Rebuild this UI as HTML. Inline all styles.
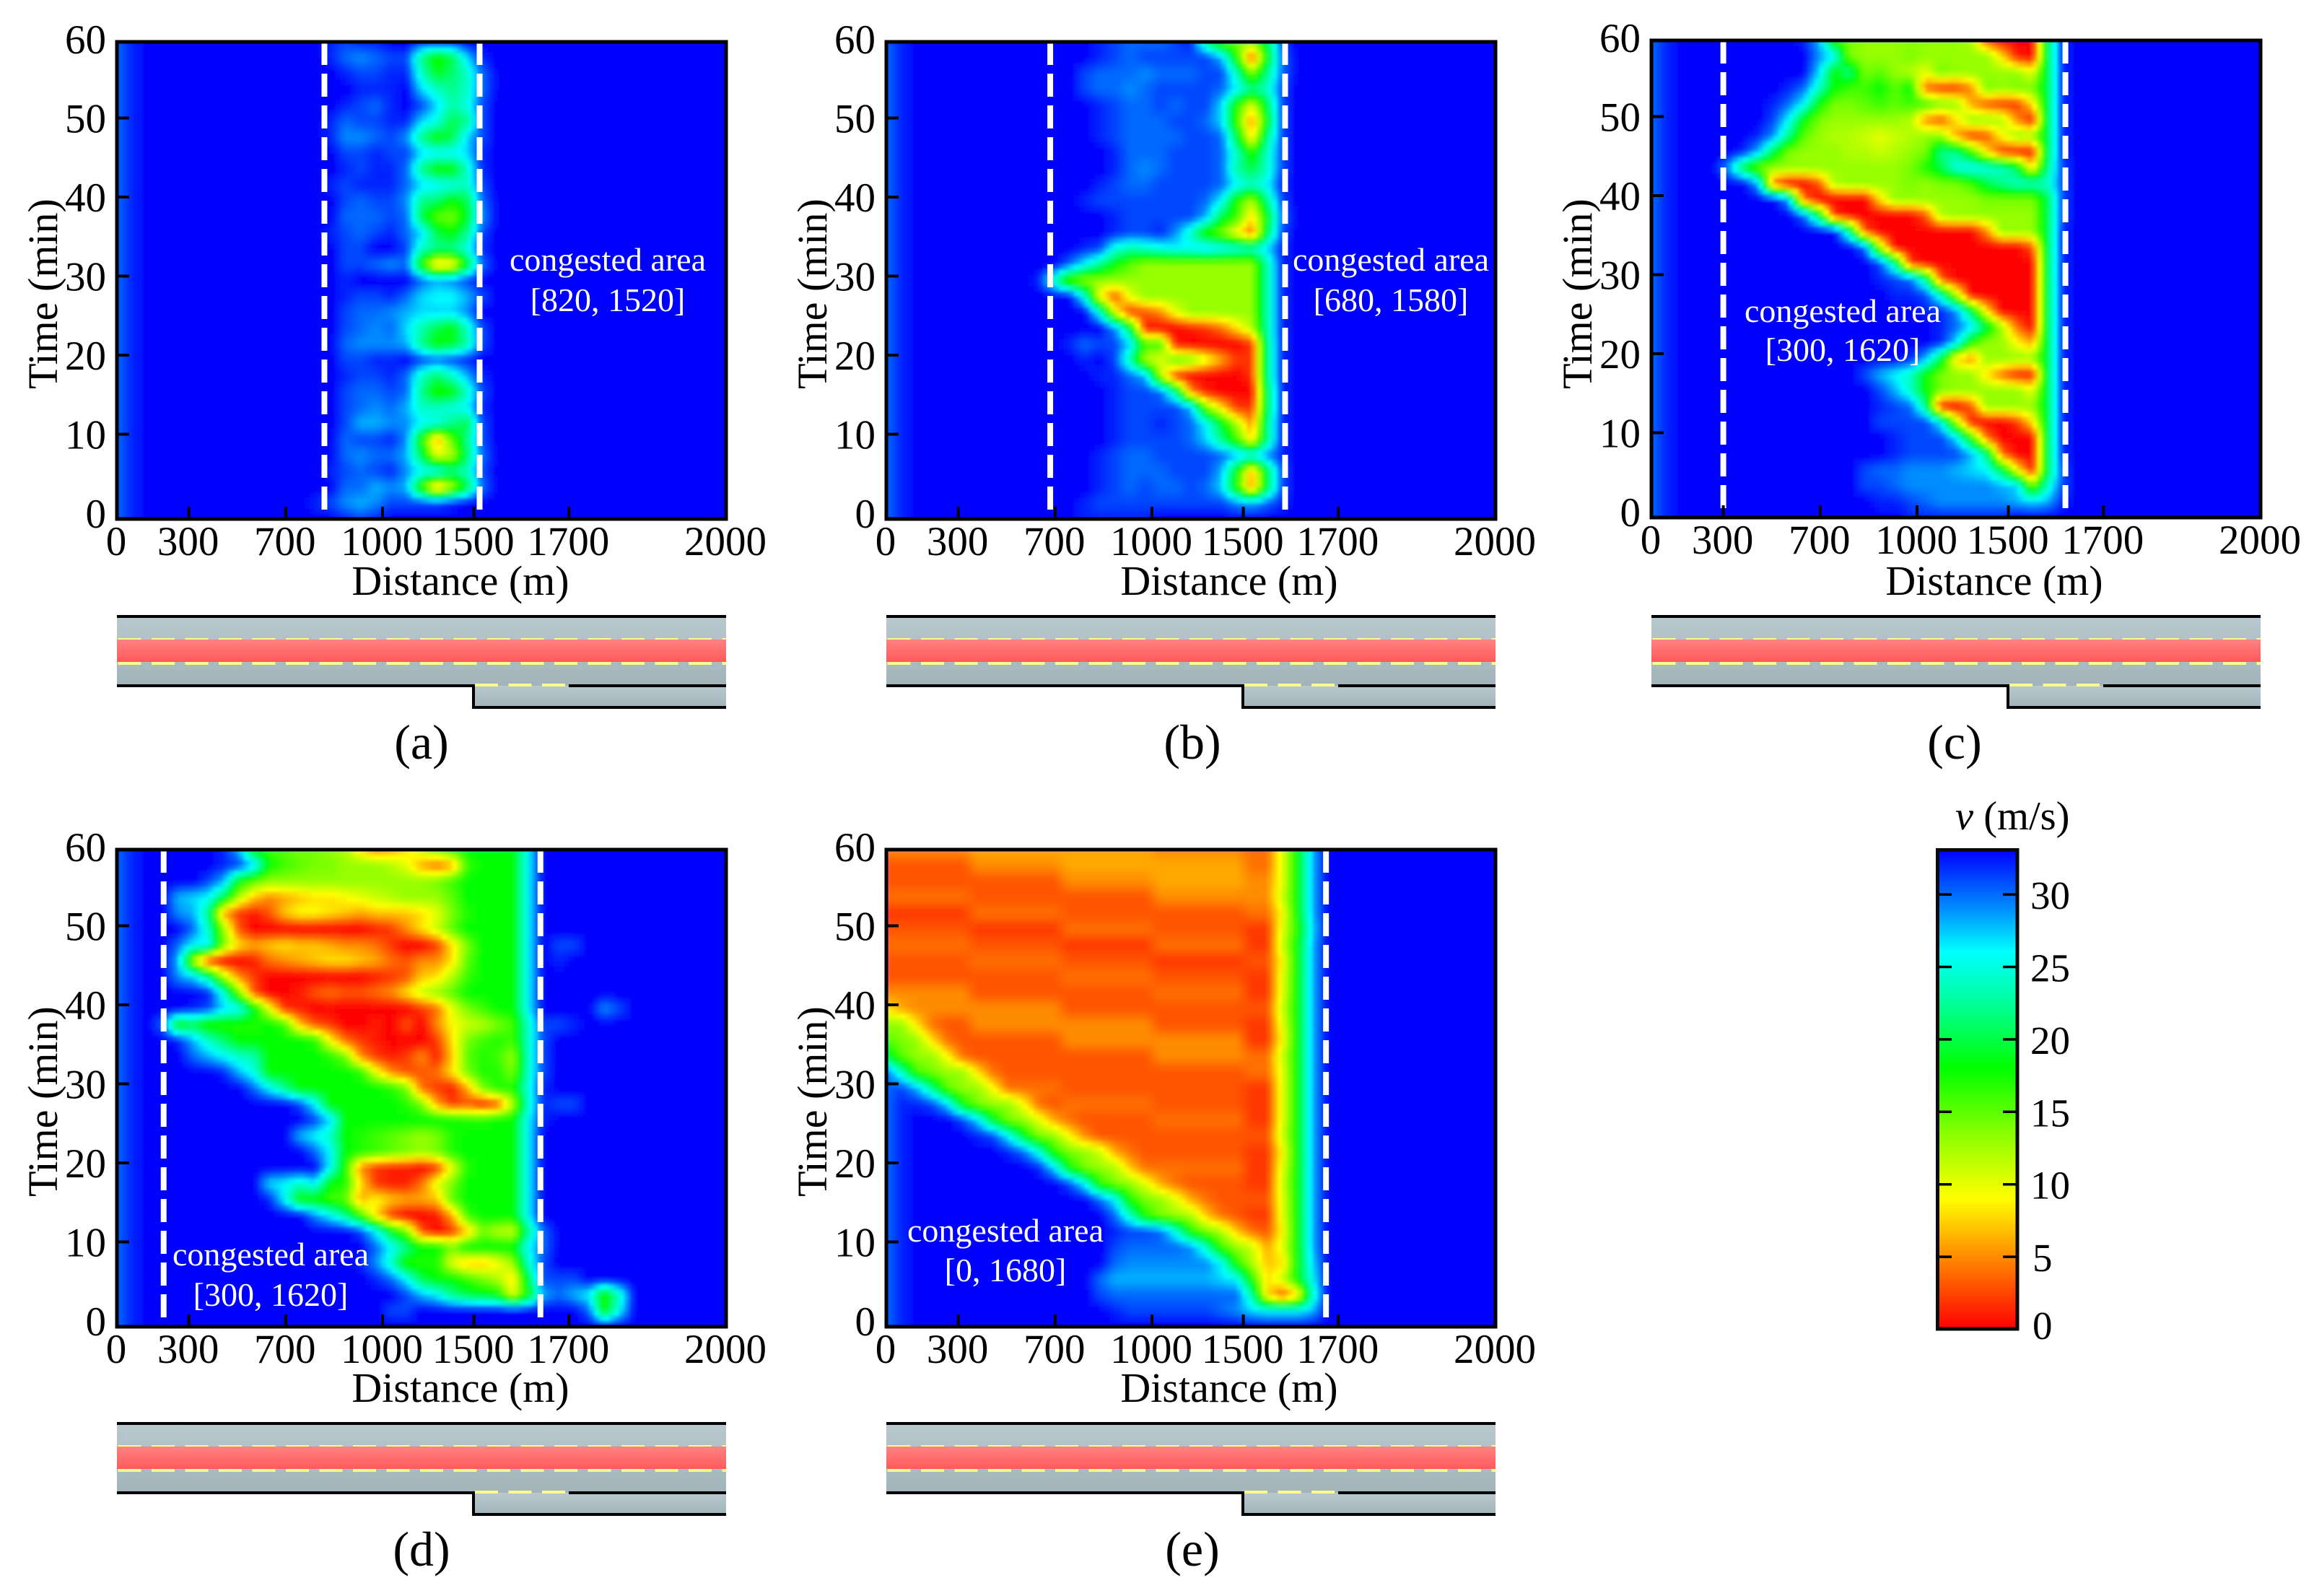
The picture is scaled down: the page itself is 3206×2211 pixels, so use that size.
<!DOCTYPE html>
<html lang="en">
<head>
<meta charset="utf-8">
<title>Speed heatmaps of congested areas</title>
<style>
html,body{margin:0;padding:0;background:#fff}
svg{display:block}
text{font-family:"Liberation Serif",serif;fill:#000}
.tick{font-size:57px}
.title{font-size:58px}
.note{font-size:46px;fill:#fff;text-anchor:middle}
.cap{font-size:68px;text-anchor:middle}
</style>
</head>
<body>
<svg xmlns="http://www.w3.org/2000/svg" width="3206" height="2211" viewBox="0 0 3206 2211">
<defs>
<linearGradient id="greyGrad" x1="0" y1="0" x2="0" y2="1"><stop offset="0" stop-color="#b8c8ce"/><stop offset="1" stop-color="#a2b4ba"/></linearGradient>
<linearGradient id="redGrad" x1="0" y1="0" x2="0" y2="1"><stop offset="0" stop-color="#ff8282"/><stop offset="1" stop-color="#ff5a5a"/></linearGradient>
<linearGradient id="cbGrad" x1="0" y1="1" x2="0" y2="0"></linearGradient>
<filter id="soft" x="-2%" y="-2%" width="104%" height="104%"><feGaussianBlur stdDeviation="2.4"/></filter>
<g id="road-diagram">
<rect x="0" y="0" width="844" height="96" fill="url(#greyGrad)"/>
<rect x="494" y="96" width="350" height="30" fill="url(#greyGrad)"/>
<line x1="1.5" y1="32" x2="844" y2="32" stroke="#fbfb8e" stroke-width="4" stroke-dasharray="32 14.5"/>
<rect x="0" y="32" width="844" height="31" fill="url(#redGrad)"/>
<line x1="1.5" y1="65" x2="844" y2="65" stroke="#fbfb8e" stroke-width="4" stroke-dasharray="32 14.5"/>
<line x1="0" y1="0" x2="844" y2="0" stroke="#000" stroke-width="4"/>
<line x1="0" y1="96" x2="492" y2="96" stroke="#000" stroke-width="4"/>
<line x1="626" y1="96" x2="844" y2="96" stroke="#000" stroke-width="4"/>
<line x1="494" y1="94" x2="494" y2="128" stroke="#000" stroke-width="4"/>
<line x1="492" y1="126" x2="844" y2="126" stroke="#000" stroke-width="4"/>
<line x1="496" y1="95" x2="621" y2="95" stroke="#fbfb8e" stroke-width="4" stroke-dasharray="32 14.5"/>
</g>
</defs>

<g id="panel-a">
<g id="heat-a"></g><g id="axes-a"></g>
<text class="title" x="638" y="824" text-anchor="middle">Distance (m)</text>
<text class="title" transform="translate(79,407) rotate(-90)" text-anchor="middle">Time (min)</text>
<text class="note" x="842" y="375">congested area</text>
<text class="note" x="842" y="431">[820, 1520]</text>
<use href="#road-diagram" x="162" y="854"/>
<text class="cap" x="584" y="1051">(a)</text>
</g>

<g id="panel-b">
<g id="heat-b"></g><g id="axes-b"></g>
<text class="title" x="1703" y="824" text-anchor="middle">Distance (m)</text>
<text class="title" transform="translate(1145,407) rotate(-90)" text-anchor="middle">Time (min)</text>
<text class="note" x="1927" y="375">congested area</text>
<text class="note" x="1927" y="431">[680, 1580]</text>
<use href="#road-diagram" x="1228" y="854"/>
<text class="cap" x="1652" y="1051">(b)</text>
</g>

<g id="panel-c">
<g id="heat-c"></g><g id="axes-c"></g>
<text class="title" x="2763" y="824" text-anchor="middle">Distance (m)</text>
<text class="title" transform="translate(2205,407) rotate(-90)" text-anchor="middle">Time (min)</text>
<text class="note" x="2553" y="446">congested area</text>
<text class="note" x="2553" y="500">[300, 1620]</text>
<use href="#road-diagram" x="2288" y="854"/>
<text class="cap" x="2708" y="1051">(c)</text>
</g>

<g id="panel-d">
<g id="heat-d"></g><g id="axes-d"></g>
<text class="title" x="638" y="1942" text-anchor="middle">Distance (m)</text>
<text class="title" transform="translate(79,1526) rotate(-90)" text-anchor="middle">Time (min)</text>
<text class="note" x="375" y="1753">congested area</text>
<text class="note" x="375" y="1809">[300, 1620]</text>
<use href="#road-diagram" x="162" y="1972"/>
<text class="cap" x="584" y="2169">(d)</text>
</g>

<g id="panel-e">
<g id="heat-e"></g><g id="axes-e"></g>
<text class="title" x="1703" y="1942" text-anchor="middle">Distance (m)</text>
<text class="title" transform="translate(1145,1526) rotate(-90)" text-anchor="middle">Time (min)</text>
<text class="note" x="1393" y="1720">congested area</text>
<text class="note" x="1393" y="1775">[0, 1680]</text>
<use href="#road-diagram" x="1228" y="1972"/>
<text class="cap" x="1652" y="2169">(e)</text>
</g>

<g id="colorbar">
<rect x="2684.5" y="1177.5" width="110.5" height="663.5" fill="url(#cbGrad)"/>
<g id="cb-ticks"></g>
<rect x="2684.5" y="1177.5" width="110.5" height="663.5" fill="none" stroke="#0a0a0a" stroke-width="5"/>
<text x="2709" y="1149" font-size="56.5"><tspan font-style="italic">v</tspan> (m/s)</text>
</g>

<script>
// Tick labels
const xTickValues = [0, 300, 700, 1000, 1500, 1700, 2000];
const yTickValues = [0, 10, 20, 30, 40, 50, 60];
const colorbarTicks = [0, 5, 10, 15, 20, 25, 30];

// Dashed congested-area boundaries (distance)
const boundsA = [820, 1512];
const boundsB = [680, 1588];
const boundsC = [300, 1620];
const boundsD = [195, 1640];
const boundsE = [1674];

// Speed (m/s) rows, top row = 60 min, each row 2 min earlier; columns begin at the panel's first column.
const firstColA = 13;
const speedRowsA = [
[33,32,31,32,32,33,33,32,32,32,33,33],
[33,32,30,29,30,31,31,22,17,20,27,32],
[33,33,32,31,31,32,32,24,19,21,24,30],
[33,33,33,32,32,32,33,27,24,22,24,30],
[33,33,32,31,30,32,33,31,27,23,25,31],
[33,32,30,31,31,32,32,27,25,20,22,31],
[33,32,29,29,30,31,29,22,18,20,27,31],
[33,33,31,31,32,31,31,27,26,26,27,32],
[33,33,32,31,32,32,30,22,18,18,24,32],
[33,32,31,32,32,32,30,27,26,25,24,31],
[33,33,31,30,31,31,29,22,21,18,20,30],
[33,33,30,30,30,31,30,20,15,14,19,29],
[33,32,31,30,31,32,30,27,20,18,22,31],
[33,33,31,31,33,33,31,24,22,22,25,32],
[33,33,31,31,30,29,30,17,7,8,19,30],
[33,33,32,33,33,33,33,30,28,29,31,33],
[33,33,32,31,31,32,30,27,26,26,28,31],
[33,33,31,30,30,29,28,27,27,27,29,33],
[33,33,31,30,29,30,27,23,20,18,24,31],
[33,33,30,29,29,29,28,22,18,19,23,31],
[33,33,31,31,32,32,33,31,30,31,32,33],
[33,33,32,31,31,32,30,24,21,24,28,32],
[33,33,31,30,30,31,30,22,17,18,24,31],
[33,33,31,30,29,30,28,24,24,25,26,32],
[33,33,31,28,28,29,29,26,25,22,20,31],
[33,33,30,31,31,32,29,17,6,15,22,31],
[33,33,30,29,30,30,28,20,10,12,21,30],
[33,32,31,30,31,32,29,26,26,22,24,31],
[33,33,30,30,28,29,28,16,6,12,20,30],
[32,31,29,28,29,31,31,31,31,32,33,33],
[33,33,32,31,32,33,33,33,33,33,33,33]
];

const firstColB = 10;
const speedRowsB = [
[33,33,33,33,32,31,30,30,30,31,32,22,15,14,13,20,31],
[33,33,33,33,32,31,30,31,31,31,31,31,28,17,3,18,30],
[33,33,33,31,30,30,30,29,30,30,30,31,31,24,14,22,30],
[33,33,33,31,30,30,29,30,31,31,31,31,30,26,22,24,31],
[33,33,33,33,32,31,30,30,31,30,31,31,27,17,10,20,31],
[33,33,33,33,32,31,30,30,30,31,31,30,27,16,5,18,31],
[33,33,33,33,32,31,30,30,30,30,31,31,30,20,8,22,31],
[33,33,33,33,33,32,30,30,30,31,31,31,30,24,17,24,31],
[33,33,33,33,33,32,30,29,30,31,31,31,30,23,20,24,31],
[33,33,33,33,32,31,30,30,31,31,31,31,30,26,24,26,32],
[33,33,33,32,31,31,31,31,31,31,31,30,26,17,12,22,31],
[33,33,33,33,33,32,31,31,31,31,31,28,20,16,8,18,30],
[33,33,33,33,33,32,31,31,32,29,24,17,14,9,4,20,31],
[33,33,33,32,31,25,23,24,25,26,26,27,26,25,24,27,32],
[33,33,30,26,22,18,15,13,13,13,13,13,13,13,13,23,32],
[32,24,15,13,13,13,13,13,13,13,13,13,13,13,13,23,32],
[33,33,33,25,9,3,10,13,13,13,13,13,13,13,13,23,32],
[33,33,33,33,25,10,2,3,5,10,13,13,13,13,13,23,32],
[33,33,33,33,33,29,20,1,0,0,1,2,4,8,12,23,32],
[33,33,32,30,31,31,27,16,16,1,0,0,0,0,2,22,32],
[33,33,33,32,33,31,23,12,10,15,14,10,6,2,2,22,32],
[33,33,33,33,32,32,30,28,12,2,0,0,0,0,2,22,32],
[33,33,33,33,33,32,31,31,30,22,5,1,0,0,0,20,32],
[33,33,33,33,33,32,31,31,31,31,28,14,8,2,2,20,32],
[33,33,33,33,33,32,31,31,32,31,30,26,19,12,5,22,32],
[33,33,33,33,33,32,31,31,31,31,30,27,22,16,8,22,32],
[33,33,33,33,32,31,30,30,31,31,31,31,30,28,26,29,32],
[33,33,33,33,32,31,30,30,30,31,31,31,28,18,6,20,31],
[33,33,33,33,32,31,30,31,30,30,31,30,27,17,5,20,31],
[33,33,33,32,31,31,31,31,31,31,31,31,31,29,28,30,32],
[33,33,33,32,32,32,32,32,33,33,33,33,33,33,33,33,33]
];

const firstColC = 5;
const speedRowsC = [
[33,33,33,33,33,32,28,17,14,13,13,13,13,13,13,13,12,3,0,0,0,20,32],
[33,33,33,33,33,33,29,26,14,13,13,13,14,13,13,13,13,13,8,1,0,20,32],
[33,33,33,33,33,33,27,18,22,14,15,13,12,10,14,13,13,13,13,13,10,20,32],
[33,33,33,33,32,30,24,18,16,16,18,15,18,4,2,2,5,14,13,14,14,20,32],
[33,33,33,32,30,26,18,14,14,15,16,15,16,16,14,13,6,3,2,2,8,20,32],
[33,33,33,31,26,18,14,13,13,13,13,13,12,5,3,8,13,13,12,5,1,20,32],
[33,33,32,29,22,15,13,12,12,11,10,11,12,13,13,6,2,3,9,13,13,20,32],
[33,32,28,20,14,13,13,13,12,12,11,12,13,14,22,22,16,8,2,1,1,20,32],
[29,20,14,13,13,13,13,13,13,13,13,13,14,17,20,25,26,25,24,20,8,22,31],
[33,33,28,4,0,0,3,12,13,13,13,13,14,13,14,14,16,20,22,24,24,24,31],
[33,33,33,33,28,4,0,0,0,0,8,13,13,13,13,13,13,14,14,14,14,20,31],
[33,33,33,33,33,30,20,2,0,0,0,0,0,3,12,13,13,13,13,13,13,20,31],
[33,33,33,33,33,33,33,33,22,3,0,0,0,0,0,0,0,5,13,13,13,20,32],
[33,33,33,33,33,33,33,33,33,30,12,0,0,0,0,0,0,0,0,0,3,20,32],
[33,33,33,33,33,33,33,33,33,33,31,22,2,0,0,0,0,0,0,0,0,20,32],
[33,33,33,33,33,33,33,33,33,33,32,31,30,22,3,0,0,0,0,0,0,20,32],
[33,33,33,33,33,33,33,33,33,33,33,32,32,31,24,12,0,0,0,0,0,20,32],
[33,33,33,33,33,33,33,33,33,33,33,33,33,32,32,29,20,8,0,0,0,20,32],
[33,33,33,33,33,33,33,33,33,33,33,33,33,33,32,30,27,20,12,4,0,20,32],
[33,33,33,33,33,33,33,33,33,33,33,33,33,33,32,27,17,13,13,9,6,20,32],
[33,33,33,33,33,33,33,33,33,33,33,33,32,28,20,8,5,13,13,13,13,20,32],
[33,33,33,33,33,33,33,33,33,31,28,26,24,18,14,13,13,8,4,1,1,20,32],
[33,33,33,33,33,33,33,33,33,33,31,28,24,18,14,13,13,13,13,13,10,20,32],
[33,33,33,33,33,33,33,33,33,33,32,31,30,22,1,0,3,13,13,13,13,20,32],
[33,33,33,33,33,33,33,33,33,33,31,31,31,31,26,12,1,0,0,2,8,20,32],
[33,33,33,33,33,33,33,33,33,33,33,32,31,31,31,27,17,4,0,0,0,20,32],
[33,33,33,33,33,33,33,33,33,33,33,32,31,31,31,31,28,22,4,0,0,20,32],
[33,33,33,33,33,33,33,33,33,31,30,30,29,29,29,28,27,26,20,9,1,20,31],
[33,33,33,33,33,33,33,33,33,31,31,30,29,29,29,29,29,29,28,27,14,24,31],
[33,33,33,33,33,33,33,33,33,33,32,32,31,30,29,29,29,29,29,28,27,28,32],
[33,33,33,33,33,33,33,33,33,33,33,33,32,32,32,32,32,32,32,33,33,33,33]
];

const firstColD = 3;
const speedRowsD = [
[33,33,33,33,32,28,18,16,15,14,14,13,12,8,5,6,8,11,14,16,18,18,18,18,26,33],
[33,33,33,33,32,31,27,18,16,15,14,14,13,13,13,12,10,6,4,6,16,18,18,18,26,33],
[33,33,33,31,28,18,15,13,13,13,13,13,13,13,13,13,13,13,14,16,18,18,18,18,26,33],
[33,28,27,26,20,12,7,5,6,7,8,8,9,10,11,12,13,13,13,15,18,18,18,18,26,33],
[33,29,28,22,6,2,1,3,7,9,9,8,7,6,7,7,7,8,10,14,17,18,18,18,26,33],
[33,33,30,24,13,3,0,0,0,0,0,0,0,0,1,2,5,8,11,15,18,18,18,18,26,33],
[33,30,26,26,14,8,6,7,8,7,7,6,5,5,4,2,0,0,2,8,14,18,18,18,26,33,31,31],
[33,28,12,2,0,0,1,4,5,6,7,8,8,7,6,4,3,5,5,8,15,18,18,18,26,33,32],
[33,29,27,22,12,5,2,0,0,0,0,0,0,0,1,2,3,7,8,12,16,18,18,18,26,33],
[33,33,33,32,25,14,3,0,0,1,3,4,3,3,4,5,8,11,13,15,18,18,18,18,26,33],
[33,33,32,31,27,26,19,10,2,1,0,0,0,0,0,0,0,2,4,10,14,16,18,18,26,33,33,33,33,29,31],
[30,18,20,17,17,17,17,18,16,7,3,2,0,0,1,0,3,0,5,9,11,12,14,16,24,31,31,32],
[33,32,28,24,21,18,18,18,18,18,17,9,4,2,1,0,0,0,2,8,14,16,17,16,24,31],
[33,33,30,28,26,24,23,18,18,18,18,17,14,5,2,1,2,5,1,7,15,17,16,13,24,31],
[33,33,33,33,32,28,25,18,18,18,18,18,18,17,10,5,3,3,4,8,14,17,17,14,24,31],
[33,33,33,33,33,33,30,26,22,18,18,18,18,18,18,17,14,4,2,1,6,14,17,17,25,32],
[33,33,33,33,33,33,33,33,33,31,26,18,18,18,18,18,17,14,6,2,3,1,3,12,24,32,31,31],
[33,33,33,33,33,33,33,33,33,33,31,27,18,18,18,18,18,18,18,18,17,17,18,18,26,32],
[33,33,33,33,33,33,33,33,33,28,26,24,18,17,16,15,14,13,14,17,18,18,18,18,26,33],
[33,33,33,33,33,33,33,33,33,33,30,26,18,17,16,15,14,13,14,17,18,18,18,18,26,33],
[33,33,33,33,33,33,33,33,33,33,33,26,17,5,2,1,1,0,2,10,17,18,18,18,26,33],
[33,33,33,33,33,33,33,27,26,24,26,18,17,8,2,1,1,4,10,14,18,18,18,18,26,33],
[33,33,33,33,33,33,33,32,26,18,18,16,15,6,9,7,6,6,7,15,18,18,18,18,26,33],
[33,33,33,33,33,33,33,33,33,33,29,26,22,16,8,2,0,0,1,6,16,18,18,18,26,33],
[33,33,33,33,33,33,33,33,33,33,33,33,33,31,26,19,14,3,0,2,7,14,12,11,22,30],
[33,33,33,33,33,33,33,33,33,33,33,33,33,33,30,26,22,18,18,14,18,18,18,18,26,30],
[33,33,33,33,33,33,33,33,33,33,33,33,33,32,29,24,17,17,17,10,7,7,9,13,24,31],
[33,33,33,33,33,33,33,33,33,33,33,33,33,33,32,30,26,20,18,18,16,14,12,8,20,31,31,31],
[33,33,33,33,33,33,33,33,33,33,33,33,33,33,33,33,31,28,26,22,20,19,18,10,18,28,30,28,26,17,24],
[33,33,33,33,33,33,33,33,33,33,33,33,33,33,33,31,31,33,33,33,33,33,33,33,33,33,33,33,30,18,26],
[]
];

const firstColE = 0;
const speedRowsE = [
[5,5,5,5,5,5,6,6,6,6,6,6,6,6,6,6,6,6,5,5,5,5,5,5,4,4,10,18,28],
[3,3,3,3,3,3,5,5,5,5,5,5,6,6,6,6,6,6,6,6,6,6,6,6,4,4,10,18,28],
[3,3,3,3,3,3,3,3,3,3,3,3,5,5,5,5,5,5,6,6,6,6,6,6,5,5,10,18,28],
[4,4,4,4,4,4,3,3,3,3,3,3,3,3,3,3,3,3,5,5,5,5,5,5,5,5,11,18,28],
[2,2,2,2,2,2,4,4,4,4,4,4,3,3,3,3,3,3,3,3,3,3,3,3,4,4,9,18,28],
[3,3,3,3,3,3,2,2,2,2,2,2,4,4,4,4,4,4,3,3,3,3,3,3,2,2,10,17,27],
[4,4,4,4,4,4,3,3,3,3,3,3,2,2,2,2,2,2,4,4,4,4,4,4,2,2,11,18,28],
[3,3,3,3,3,3,4,4,4,4,4,4,3,3,3,3,3,3,2,2,2,2,2,2,3,3,9,18,28],
[3,3,3,3,3,3,3,3,3,3,3,3,4,4,4,4,4,4,3,3,3,3,3,3,2,2,10,18,28],
[5,5,5,5,5,5,3,3,3,3,3,3,3,3,3,3,3,3,4,4,4,4,4,4,2,2,10,18,28],
[8,6,5,5,5,5,5,5,5,5,5,5,3,3,3,3,3,3,3,3,3,3,3,3,3,3,11,18,28],
[13,13,8,4,3,3,5,5,5,5,5,5,5,5,5,5,5,5,3,3,3,3,3,3,2,2,10,18,28],
[15,14,13,8,4,3,3,3,3,3,3,3,5,5,5,5,5,5,5,5,5,5,5,5,2,2,9,18,28],
[20,15,13,13,9,4,3,3,3,3,3,3,3,3,3,3,3,3,5,5,5,5,5,5,4,4,11,18,28],
[30,24,16,14,13,13,8,4,3,3,3,3,3,3,3,3,3,3,3,3,3,3,3,3,4,4,10,18,28],
[30,31,28,22,15,13,13,9,4,4,4,4,3,3,3,3,3,3,3,3,3,3,3,3,2,2,10,18,28],
[30,32,32,31,27,18,14,13,13,9,4,3,4,4,4,4,4,4,3,3,3,3,3,3,2,2,10,18,28],
[30,32,33,33,33,31,27,19,14,13,10,6,4,3,3,3,3,3,4,4,4,4,4,4,2,2,10,18,28],
[30,32,33,33,33,33,32,31,26,19,14,13,9,5,3,3,3,3,3,3,3,3,3,3,3,3,11,18,28],
[30,32,33,33,33,33,33,33,32,30,25,17,14,13,11,6,4,3,3,3,3,3,3,3,2,2,9,18,28],
[30,32,33,33,33,33,33,33,33,33,32,27,18,14,13,12,7,4,4,4,4,4,4,4,2,2,10,18,28],
[30,32,33,33,33,33,33,33,33,33,33,33,31,26,17,14,13,10,6,4,3,3,3,3,2,2,11,18,28],
[30,32,33,33,33,33,33,33,33,33,33,33,33,33,30,26,17,14,13,10,6,4,3,3,3,3,10,18,28],
[30,32,33,33,33,33,33,33,33,33,33,33,33,33,33,30,24,17,14,13,12,7,4,3,2,2,10,18,28],
[30,32,33,33,33,33,33,33,33,33,33,33,33,33,33,32,31,31,30,25,17,14,12,7,4,3,9,18,28],
[30,32,33,33,33,33,33,33,33,33,33,33,33,33,33,31,30,30,30,30,29,24,16,13,11,6,10,18,28],
[30,32,33,33,33,33,33,33,33,33,33,33,33,33,33,30,29,29,29,29,29,29,26,17,12,7,8,18,27],
[30,32,33,33,33,33,33,33,33,33,33,33,33,33,30,28,28,28,28,28,28,28,27,26,17,8,11,18,26],
[30,32,33,33,33,33,33,33,33,33,33,33,33,33,31,30,30,30,30,30,30,30,30,30,23,8,3,8,24],
[30,32,33,33,33,33,33,33,33,33,33,33,33,33,33,32,31,31,31,31,31,31,30,29,27,26,26,26,28],
[30,32,33,33,33,33,33,33,33,33,33,33,33,33,33,33,33,33,33,33,33,33,33,33,33,33,33,33,33]
];

const SVGNS = 'http://www.w3.org/2000/svg';
const PLOT_W = 844, PLOT_H = 661, COLS = 40, ROWS = 30, SUB = 3;

function mk(parent, tag, name, interact, attrs) {
  const el = document.createElementNS(SVGNS, tag);
  
  
  for (const k in attrs) el.setAttribute(k, attrs[k]);
  parent.appendChild(el);
  return el;
}

// Distance axis: the labelled ticks are not proportional, so the axis is piecewise linear.
function tickFraction(i) {
  const axisRange = [0, 0.118, 0.277, 0.436, 0.586, 0.742, 1];
  return axisRange[i];
}
function xScale(v) {
  for (let i = 0; i < xTickValues.length - 1; i++) {
    const a = xTickValues[i], b = xTickValues[i + 1];
    if (v <= b) return tickFraction(i) + (v - a) / (b - a) * (tickFraction(i + 1) - tickFraction(i));
  }
  return 1;
}
function yTickPos(t, top) { return top + 653 - t * 10.95; }

function speedColor(v) {
  const s = [[0,255,0,0],[5,255,140,0],[9,255,255,0],[13,150,255,0],[18,0,255,0],[22,0,255,140],[26,0,255,255],[29,0,140,255],[33,0,0,255]];
  v = Math.max(0, Math.min(33, v));
  for (let i = 0; i < s.length - 1; i++) {
    if (v <= s[i + 1][0]) {
      const f = (v - s[i][0]) / (s[i + 1][0] - s[i][0]);
      return 'rgb(' + Math.round(s[i][1] + f * (s[i + 1][1] - s[i][1])) + ',' +
        Math.round(s[i][2] + f * (s[i + 1][2] - s[i][2])) + ',' +
        Math.round(s[i][3] + f * (s[i + 1][3] - s[i][3])) + ')';
    }
  }
  return 'rgb(0,0,255)';
}

function speedAt(rows, first, c, r) {
  const row = rows[r] || [];
  const i = c - first;
  if (i >= 0 && i < row.length) return row[i];
  return c === 0 ? 30 : c === 1 ? 32 : 33;
}

function drawPanel(id, left, top, rows, first, bounds) {
  const heatX = function (col) { return left + col / COLS * PLOT_W; };
  const heatY = function (t) { return top + PLOT_H - t / 60 * PLOT_H; };
  const heat = document.getElementById('heat-' + id);
  const clip = mk(heat, 'clipPath', 'heat-clip-' + id, 'false', { id: 'clip-' + id });
  mk(clip, 'rect', 'heat-clip-rect', 'false', { x: left, y: top, width: PLOT_W, height: PLOT_H });
  const outer = mk(heat, 'g', 'heatmap-' + id, 'false', { 'clip-path': 'url(#clip-' + id + ')' });
  const layer = mk(outer, 'g', 'heatmap-cells-' + id, 'false', { filter: 'url(#soft)' });
  mk(layer, 'rect', 'heatmap-background-' + id, 'false', { x: left - 12, y: top - 12, width: PLOT_W + 24, height: PLOT_H + 24, fill: 'rgb(0,0,255)' });
  const cw = PLOT_W / COLS / SUB, ch = PLOT_H / ROWS / SUB;
  for (let r = 0; r < ROWS; r++) {
    for (let c = 0; c < COLS; c++) {
      const v00 = speedAt(rows, first, c, r), v10 = speedAt(rows, first, c + 1, r);
      const v01 = speedAt(rows, first, c, r + 1), v11 = speedAt(rows, first, c + 1, r + 1);
      for (let sv = 0; sv < SUB; sv++) {
        for (let su = 0; su < SUB; su++) {
          const u = (su + 0.5) / SUB, w = (sv + 0.5) / SUB;
          const val = (v00 * (1 - u) + v10 * u) * (1 - w) + (v01 * (1 - u) + v11 * u) * w;
          if (val >= 32.6) continue;
          const cell = document.createElementNS(SVGNS, 'rect');
          
          
          cell.setAttribute('x', heatX(c + su / SUB).toFixed(1));
          cell.setAttribute('y', heatY(60 - 2 * (r + sv / SUB)).toFixed(1));
          cell.setAttribute('width', (cw + 0.7).toFixed(1));
          cell.setAttribute('height', (ch + 0.7).toFixed(1));
          cell.setAttribute('fill', speedColor(val));
          layer.appendChild(cell);
        }
      }
    }
  }
  const axes = document.getElementById('axes-' + id);
  bounds.forEach(function (b) {
    const bx = left + xScale(b) * PLOT_W;
    mk(axes, 'line', 'congested-boundary-' + id, 'false', { x1: bx, x2: bx, y1: top, y2: top + PLOT_H + 3, stroke: '#fff', 'stroke-width': 8, 'stroke-dasharray': '32 12' });
  });
  mk(axes, 'rect', 'plot-frame-' + id, 'false', { x: left, y: top, width: PLOT_W, height: PLOT_H, fill: 'none', stroke: '#000', 'stroke-width': 5 });
  xTickValues.forEach(function (v) {
    const tx = left + xScale(v) * PLOT_W;
    if (v !== 0 && v !== 2000) {
      mk(axes, 'line', 'x-tick-' + v, 'false', { x1: tx, x2: tx, y1: top + PLOT_H, y2: top + PLOT_H - 17, stroke: '#000', 'stroke-width': 4 });
    }
    const lab = mk(axes, 'text', 'x-tick-label-' + v, 'false', { x: tx - 1, y: top + 711, 'text-anchor': 'middle', class: 'tick' });
    lab.textContent = v;
  });
  yTickValues.forEach(function (t) {
    const ty = yTickPos(t, top);
    if (t !== 0 && t !== 60) {
      mk(axes, 'line', 'y-tick-' + t, 'false', { x1: left, x2: left + 17, y1: ty, y2: ty, stroke: '#000', 'stroke-width': 4 });
    }
    const lab = mk(axes, 'text', 'y-tick-label-' + t, 'false', { x: left - 15, y: ty + 20, 'text-anchor': 'end', class: 'tick' });
    lab.textContent = t;
  });
}

drawPanel('a', 162, 58, speedRowsA, firstColA, boundsA);
drawPanel('b', 1228, 58, speedRowsB, firstColB, boundsB);
drawPanel('c', 2288, 56, speedRowsC, firstColC, boundsC);
drawPanel('d', 162, 1177, speedRowsD, firstColD, boundsD);
drawPanel('e', 1228, 1177, speedRowsE, firstColE, boundsE);

// Colorbar
const cbGrad = document.getElementById('cbGrad');
for (let v = 0; v <= 33; v++) {
  const stop = document.createElementNS(SVGNS, 'stop');
  stop.setAttribute('offset', (v / 33).toFixed(4));
  stop.setAttribute('stop-color', speedColor(v));
  cbGrad.appendChild(stop);
}
const cbTicks = document.getElementById('cb-ticks');
function cbY(v) { return 1841.5 - v * 20.08; }
colorbarTicks.forEach(function (v) {
  const y = cbY(v);
  if (v !== 0) {
    mk(cbTicks, 'line', 'colorbar-tick-left-' + v, 'false', { x1: 2687, x2: 2704, y1: y, y2: y, stroke: '#000', 'stroke-width': 3.5 });
    mk(cbTicks, 'line', 'colorbar-tick-right-' + v, 'false', { x1: 2775, x2: 2793, y1: y, y2: y, stroke: '#000', 'stroke-width': 3.5 });
  }
  const lab = mk(cbTicks, 'text', 'colorbar-label-' + v, 'false', { x: v < 10 ? 2816 : 2813, y: Math.min(y + 20, 1855), 'font-size': 55 });
  lab.textContent = v;
});
</script>
</svg>
</body>
</html>
